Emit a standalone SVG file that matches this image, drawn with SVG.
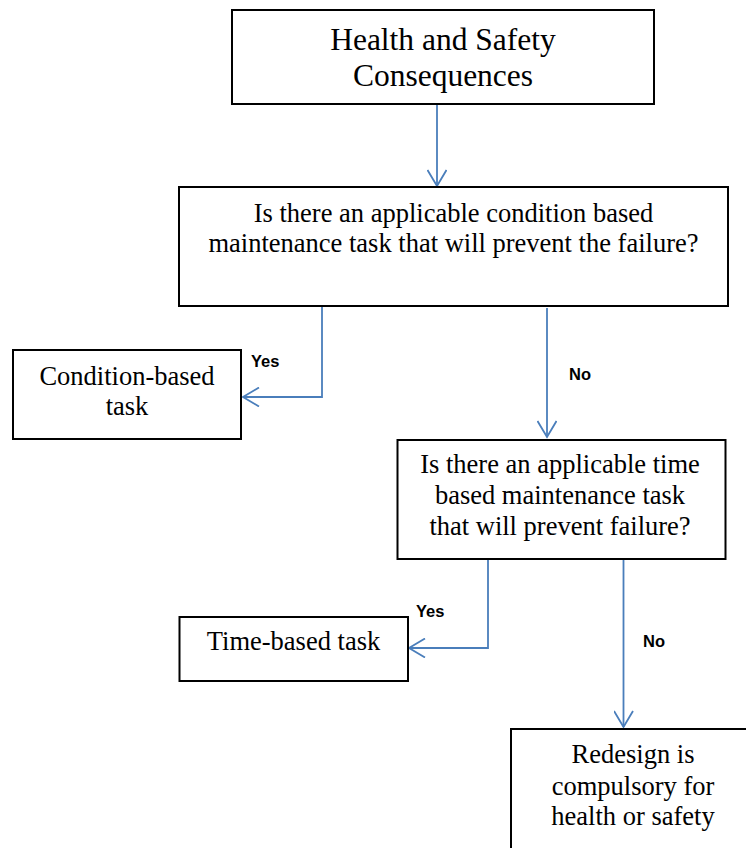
<svg xmlns="http://www.w3.org/2000/svg" width="746" height="848" viewBox="0 0 746 848">
<style>
.box{fill:#fff;stroke:#000;stroke-width:2}
.t{font-family:"Liberation Serif","Times New Roman",serif;font-size:26.5px;fill:#000;text-anchor:middle}
.big{font-size:31.5px}
.lbl{font-family:"Liberation Sans",Arial,sans-serif;font-size:16.5px;font-weight:bold;fill:#000}
.c{fill:none;stroke:#4A7EBB;stroke-width:1.8}
</style>
<defs>
<marker id="ah" viewBox="0 0 20 20" refX="18" refY="10" markerWidth="20" markerHeight="20" markerUnits="userSpaceOnUse" orient="auto">
<path d="M2,0.5 L18,10 L2,19.5" fill="none" stroke="#4A7EBB" stroke-width="1.8"/>
</marker>
</defs>
<rect width="746" height="848" fill="#fff"/>
<g id="connectors">
<path class="c" d="M437,105 V186" marker-end="url(#ah)"/>
<path class="c" d="M322,307 V397 H243" marker-end="url(#ah)"/>
<path class="c" d="M547,308 V437" marker-end="url(#ah)"/>
<path class="c" d="M488,560 V648 H409" marker-end="url(#ah)"/>
<path class="c" d="M623.5,560 V727" marker-end="url(#ah)"/>
<text class="lbl" x="251" y="367">Yes</text>
<text class="lbl" x="569" y="380">No</text>
<text class="lbl" x="416" y="617">Yes</text>
<text class="lbl" x="643" y="647">No</text>
</g>
<g id="n1">
<rect class="box" x="232" y="10" width="422" height="94"/>
<text class="t big" x="443" y="50">Health and Safety</text>
<text class="t big" x="443" y="86">Consequences</text>
</g>
<g id="n2">
<rect class="box" x="179" y="187" width="549" height="119"/>
<text class="t" x="453.5" y="222">Is there an applicable condition based</text>
<text class="t" x="453.5" y="252">maintenance task that will prevent the failure?</text>
</g>
<g id="n3">
<rect class="box" x="13" y="350" width="228" height="89"/>
<text class="t" x="127" y="385">Condition-based</text>
<text class="t" x="127" y="415">task</text>
</g>
<g id="n4">
<rect class="box" x="397.5" y="440" width="328" height="119"/>
<text class="t" x="560" y="473">Is there an applicable time</text>
<text class="t" x="560" y="504">based maintenance task</text>
<text class="t" x="560" y="535">that will prevent failure?</text>
</g>
<g id="n5">
<rect class="box" x="179.5" y="617" width="228.5" height="64"/>
<text class="t" x="293.5" y="650">Time-based task</text>
</g>
<g id="n6">
<rect class="box" x="511" y="729" width="250" height="140"/>
<text class="t" x="633" y="763">Redesign is</text>
<text class="t" x="633" y="795">compulsory for</text>
<text class="t" x="633" y="825">health or safety</text>
</g>
</svg>
